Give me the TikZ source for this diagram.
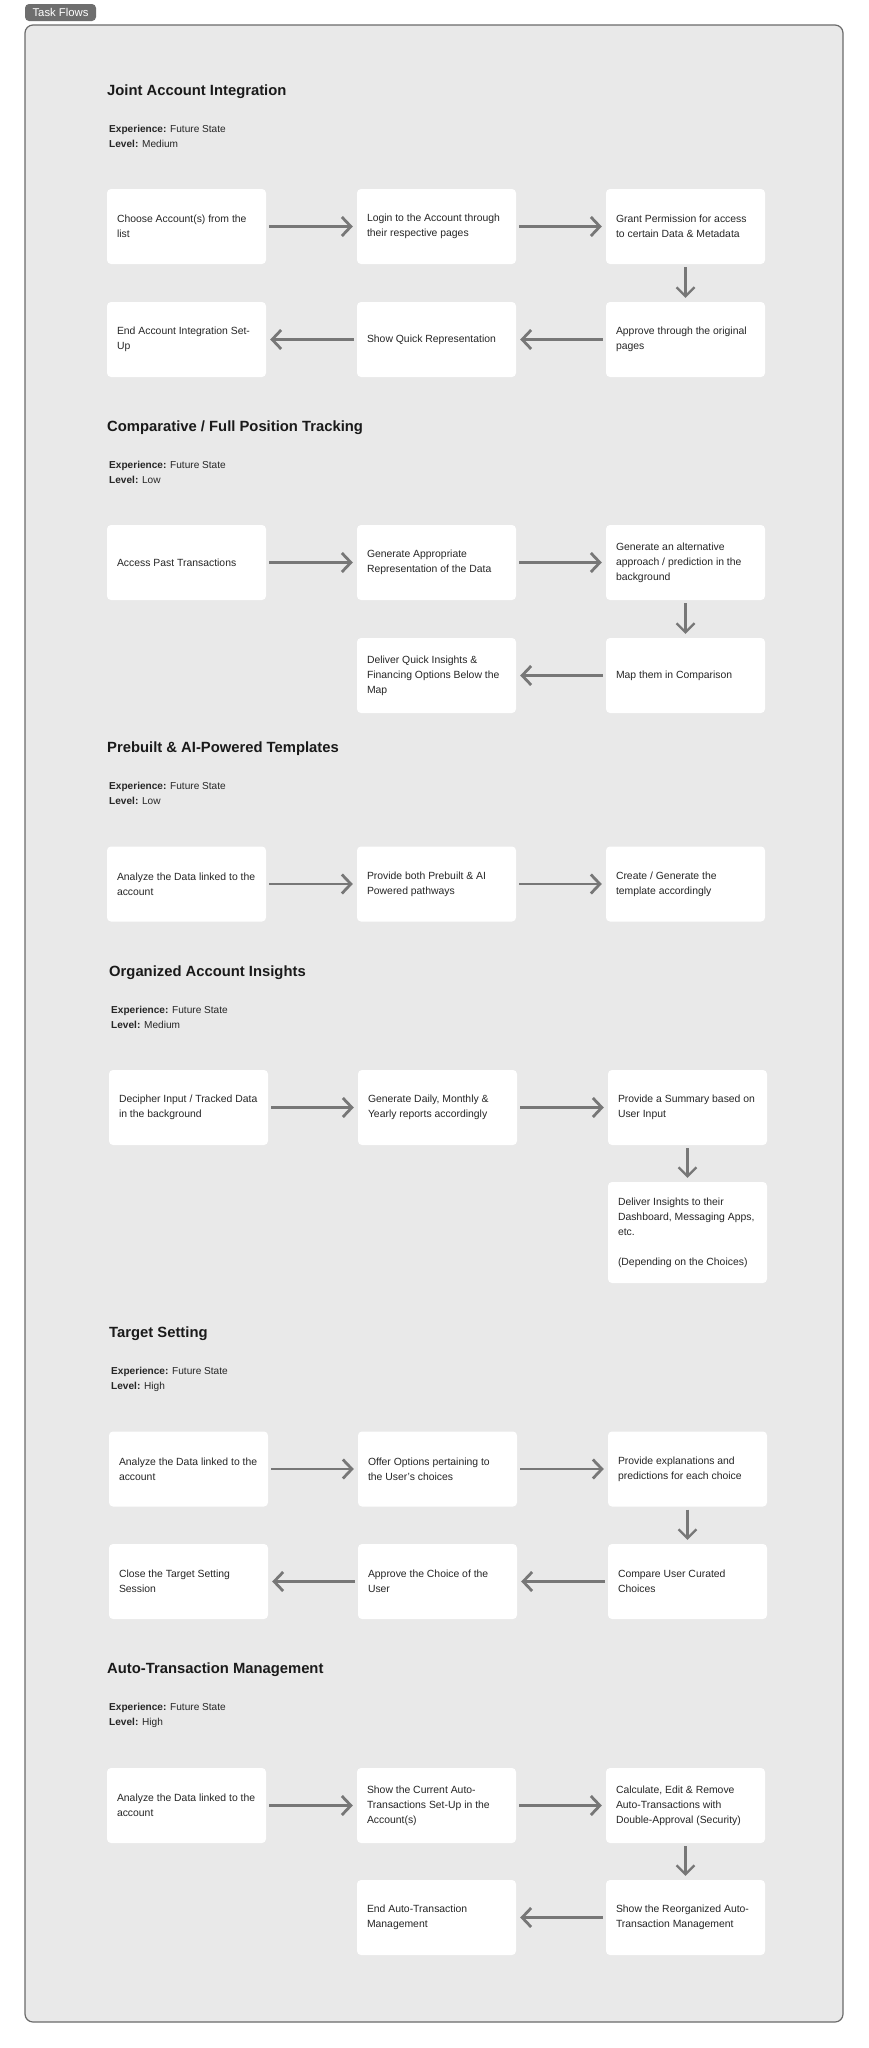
\documentclass[tikz,border=0pt]{standalone}
\usepackage{fontspec}
\setmainfont{Liberation Sans}
\usetikzlibrary{arrows.meta}
\definecolor{framebg}{HTML}{E9E9E9}
\definecolor{framedraw}{HTML}{6B6B6B}
\definecolor{tagfill}{HTML}{6E6E6E}
\definecolor{txt}{HTML}{262626}
\definecolor{ttl}{HTML}{1A1A1A}
\definecolor{arrowc}{HTML}{777777}
\newcommand{\bodyfnt}{\fontsize{10.4}{15}\selectfont}
\newcommand{\metafnt}{\fontsize{10.1}{15}\selectfont}
\newcommand{\titlefnt}{\fontsize{14.8}{18}\selectfont\bfseries}
\tikzset{
  box/.style={fill=white, rounded corners=4pt, minimum width=159pt, minimum height=75pt, inner sep=0pt},
  boxtxt/.style={anchor=west, align=left, inner sep=0pt, font=\bodyfnt, text=txt},
  flow/.style={draw=arrowc, line width=2.8pt, -{Straight Barb[length=9pt,width=19pt]}, shorten <=3pt, shorten >=4pt},
  vflow/.style={draw=arrowc, line width=2.2pt, -{Straight Barb[length=9pt,width=18pt]}, shorten <=3pt, shorten >=4pt},
  ttlstyle/.style={anchor=base west, font=\titlefnt, text=ttl, inner sep=0pt},
  metastyle/.style={anchor=base west, font=\metafnt, text=txt, inner sep=0pt},
}
% \flowbox[height]{name}{x}{y}{text}
\newcommand{\flowbox}[5][75pt]{%
  \node[box, minimum height=#1] (#2) at (#3,#4) {};
  \node[boxtxt] (#2t) at ([xshift=10pt]#2.west) {#5};}
\begin{document}
\begin{tikzpicture}[x=1pt,y=-1pt]
\useasboundingbox[fill=white] (0,0) rectangle (869,2048);
\path[fill=framebg, draw=framedraw, line width=1.2pt, rounded corners=8pt] (25,25) rectangle (843,2022);
\path[fill=tagfill, rounded corners=4pt] (25,4) rectangle (96,21);
\node[text=white, font=\fontsize{11.3}{13}\selectfont, inner sep=0pt] (tag) at (60.5,12.8) {Task Flows};

% ---------- Section 1 ----------
\node[ttlstyle] (t1) at (107,95.5) {Joint Account Integration};
\node[metastyle] (e1) at (109,132.7) {\textbf{Experience:} Future State};
\node[metastyle] (l1) at (109,147.7) {\textbf{Level:} Medium};
\flowbox{s1a}{186.5}{226.5}{Choose Account(s) from the\\list}
\flowbox{s1b}{436.5}{226.5}{Login to the Account through\\their respective pages}
\flowbox{s1c}{685.5}{226.5}{Grant Permission for access\\to certain Data \& Metadata}
\flowbox{s1d}{685.5}{339.5}{Approve through the original\\pages}
\flowbox{s1e}{436.5}{339.5}{Show Quick Representation}
\flowbox{s1f}{186.5}{339.5}{End Account Integration Set-\\Up}
\draw[flow] (s1a) -- (s1b);
\draw[flow] (s1b) -- (s1c);
\draw[vflow] (s1c) -- (s1d);
\draw[flow] (s1d) -- (s1e);
\draw[flow] (s1e) -- (s1f);

% ---------- Section 2 ----------
\node[ttlstyle] (t2) at (107,431.5) {Comparative / Full Position Tracking};
\node[metastyle] (e2) at (109,468.7) {\textbf{Experience:} Future State};
\node[metastyle] (l2) at (109,483.7) {\textbf{Level:} Low};
\flowbox{s2a}{186.5}{562.5}{Access Past Transactions}
\flowbox{s2b}{436.5}{562.5}{Generate Appropriate\\Representation of the Data}
\flowbox{s2c}{685.5}{562.5}{Generate an alternative\\approach / prediction in the\\background}
\flowbox{s2d}{685.5}{675.5}{Map them in Comparison}
\flowbox{s2e}{436.5}{675.5}{Deliver Quick Insights \&\\Financing Options Below the\\Map}
\draw[flow] (s2a) -- (s2b);
\draw[flow] (s2b) -- (s2c);
\draw[vflow] (s2c) -- (s2d);
\draw[flow] (s2d) -- (s2e);

% ---------- Section 3 ----------
\node[ttlstyle] (t3) at (107,752.5) {Prebuilt \& AI-Powered Templates};
\node[metastyle] (e3) at (109,789.7) {\textbf{Experience:} Future State};
\node[metastyle] (l3) at (109,804.7) {\textbf{Level:} Low};
\flowbox{s3a}{186.5}{884}{Analyze the Data linked to the\\account}
\flowbox{s3b}{436.5}{884}{Provide both Prebuilt \& AI\\Powered pathways}
\flowbox{s3c}{685.5}{884}{Create / Generate the\\template accordingly}
\draw[flow] (s3a) -- (s3b);
\draw[flow] (s3b) -- (s3c);

% ---------- Section 4 ----------
\node[ttlstyle] (t4) at (109,976.5) {Organized Account Insights};
\node[metastyle] (e4) at (111,1013.7) {\textbf{Experience:} Future State};
\node[metastyle] (l4) at (111,1028.7) {\textbf{Level:} Medium};
\flowbox{s4a}{188.5}{1107.5}{Decipher Input / Tracked Data\\in the background}
\flowbox{s4b}{437.5}{1107.5}{Generate Daily, Monthly \&\\Yearly reports accordingly}
\flowbox{s4c}{687.5}{1107.5}{Provide a Summary based on\\User Input}
\flowbox[101pt]{s4d}{687.5}{1232.5}{Deliver Insights to their\\Dashboard, Messaging Apps,\\etc.\\[15pt](Depending on the Choices)}
\draw[flow] (s4a) -- (s4b);
\draw[flow] (s4b) -- (s4c);
\draw[vflow] (s4c) -- (s4d);

% ---------- Section 5 ----------
\node[ttlstyle] (t5) at (109,1337.5) {Target Setting};
\node[metastyle] (e5) at (111,1374.7) {\textbf{Experience:} Future State};
\node[metastyle] (l5) at (111,1389.7) {\textbf{Level:} High};
\flowbox{s5a}{188.5}{1469}{Analyze the Data linked to the\\account}
\flowbox{s5b}{437.5}{1469}{Offer Options pertaining to\\the User's choices}
\flowbox{s5c}{687.5}{1469}{Provide explanations and\\predictions for each choice}
\flowbox{s5d}{687.5}{1581.5}{Compare User Curated\\Choices}
\flowbox{s5e}{437.5}{1581.5}{Approve the Choice of the\\User}
\flowbox{s5f}{188.5}{1581.5}{Close the Target Setting\\Session}
\draw[flow] (s5a) -- (s5b);
\draw[flow] (s5b) -- (s5c);
\draw[vflow] (s5c) -- (s5d);
\draw[flow] (s5d) -- (s5e);
\draw[flow] (s5e) -- (s5f);

% ---------- Section 6 ----------
\node[ttlstyle] (t6) at (107,1673.5) {Auto-Transaction Management};
\node[metastyle] (e6) at (109,1710.7) {\textbf{Experience:} Future State};
\node[metastyle] (l6) at (109,1725.7) {\textbf{Level:} High};
\flowbox{s6a}{186.5}{1805.5}{Analyze the Data linked to the\\account}
\flowbox{s6b}{436.5}{1805.5}{Show the Current Auto-\\Transactions Set-Up in the\\Account(s)}
\flowbox{s6c}{685.5}{1805.5}{Calculate, Edit \& Remove\\Auto-Transactions with\\Double-Approval (Security)}
\flowbox{s6d}{685.5}{1917.5}{Show the Reorganized Auto-\\Transaction Management}
\flowbox{s6e}{436.5}{1917.5}{End Auto-Transaction\\Management}
\draw[flow] (s6a) -- (s6b);
\draw[flow] (s6b) -- (s6c);
\draw[vflow] (s6c) -- (s6d);
\draw[flow] (s6d) -- (s6e);
\end{tikzpicture}
\end{document}
